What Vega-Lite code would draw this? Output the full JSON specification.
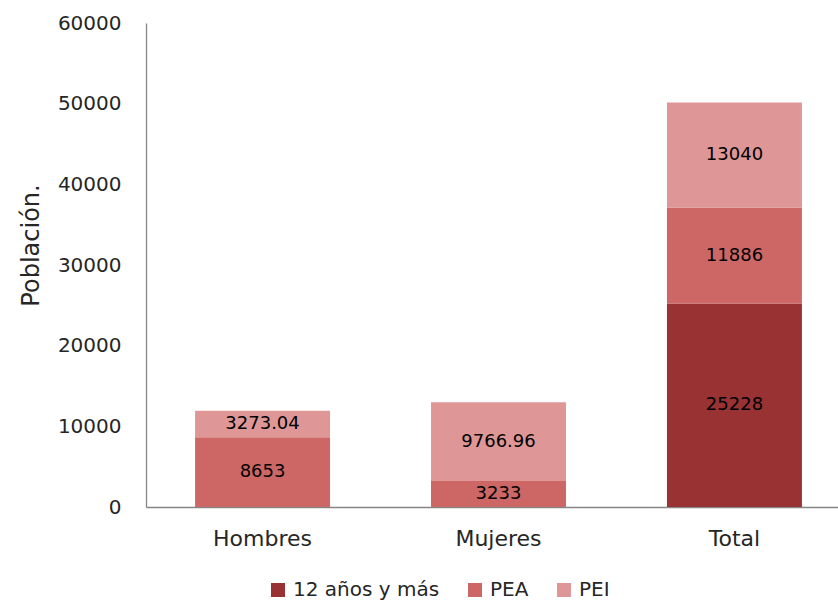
{
  "$schema": "https://vega.github.io/schema/vega-lite/v6.json",
  "autosize": {"type": "none"},
  "padding": {"left": 146, "top": 23, "right": 0, "bottom": 96},
  "width": 692,
  "height": 484,
  "background": "white",
  "data": {
    "values": [
      {"grupo": "Hombres", "serie": "PEA", "valor": 8653, "etiqueta": "8653"},
      {"grupo": "Hombres", "serie": "PEI", "valor": 3273.04, "etiqueta": "3273.04"},
      {"grupo": "Mujeres", "serie": "PEA", "valor": 3233, "etiqueta": "3233"},
      {"grupo": "Mujeres", "serie": "PEI", "valor": 9766.96, "etiqueta": "9766.96"},
      {"grupo": "Total", "serie": "12 años y más", "valor": 25228, "etiqueta": "25228"},
      {"grupo": "Total", "serie": "PEA", "valor": 11886, "etiqueta": "11886"},
      {"grupo": "Total", "serie": "PEI", "valor": 13040, "etiqueta": "13040"}
    ]
  },
  "transform": [
    {"stack": "valor", "groupby": ["grupo"], "sort": [{"field": "serie", "order": "ascending"}], "as": ["y0", "y1"]},
    {"calculate": "(datum.y0 + datum.y1) / 2", "as": "ymid"}
  ],
  "encoding": {
    "x": {
      "field": "grupo",
      "type": "nominal",
      "sort": ["Hombres", "Mujeres", "Total"],
      "scale": {"range": [0, 705], "paddingInner": 0.428, "paddingOuter": 0.208},
      "axis": {
        "title": null,
        "labelAngle": 0,
        "labelFont": "DejaVu Sans",
        "labelFontSize": 22,
        "labelColor": "#262626",
        "labelPadding": 21,
        "ticks": false,
        "tickSize": 0,
        "domainColor": "#868686",
        "domainWidth": 1.3,
        "grid": false
      }
    }
  },
  "layer": [
    {
      "mark": {"type": "bar"},
      "encoding": {
        "y": {
          "field": "y0",
          "type": "quantitative",
          "scale": {"domain": [0, 60000], "nice": false},
          "axis": {
            "title": "Población.",
            "titleFont": "DejaVu Sans",
            "titleFontSize": 24,
            "titleFontWeight": "normal",
            "titleColor": "#262626",
            "titleAngle": 270,
            "titleAlign": "center",
            "titleBaseline": "middle",
            "titleX": -115,
            "titleY": 222,
            "values": [0, 10000, 20000, 30000, 40000, 50000, 60000],
            "format": "d",
            "labelFont": "DejaVu Sans",
            "labelFontSize": 20,
            "labelColor": "#262626",
            "labelPadding": 25,
            "ticks": false,
            "tickSize": 0,
            "grid": false,
            "domainColor": "#868686",
            "domainWidth": 1.3
          }
        },
        "y2": {"field": "y1"},
        "color": {
          "field": "serie",
          "type": "nominal",
          "scale": {
            "domain": ["12 años y más", "PEA", "PEI"],
            "range": ["#993232", "#CD6766", "#DE9796"]
          },
          "legend": {
            "title": null,
            "orient": "none",
            "direction": "horizontal",
            "legendX": 122,
            "legendY": 557,
            "symbolType": "square",
            "symbolSize": 196,
            "symbolStrokeWidth": 0,
            "symbolOpacity": 1,
            "labelFont": "DejaVu Sans",
            "labelFontSize": 20,
            "labelColor": "#262626",
            "labelOffset": 5,
            "columnPadding": 25
          }
        }
      }
    },
    {
      "mark": {"type": "text", "font": "DejaVu Sans", "fontSize": 18, "color": "#000000", "baseline": "middle"},
      "encoding": {
        "y": {"field": "ymid", "type": "quantitative"},
        "text": {"field": "etiqueta", "type": "nominal"}
      }
    }
  ],
  "config": {"view": {"stroke": null}}
}
